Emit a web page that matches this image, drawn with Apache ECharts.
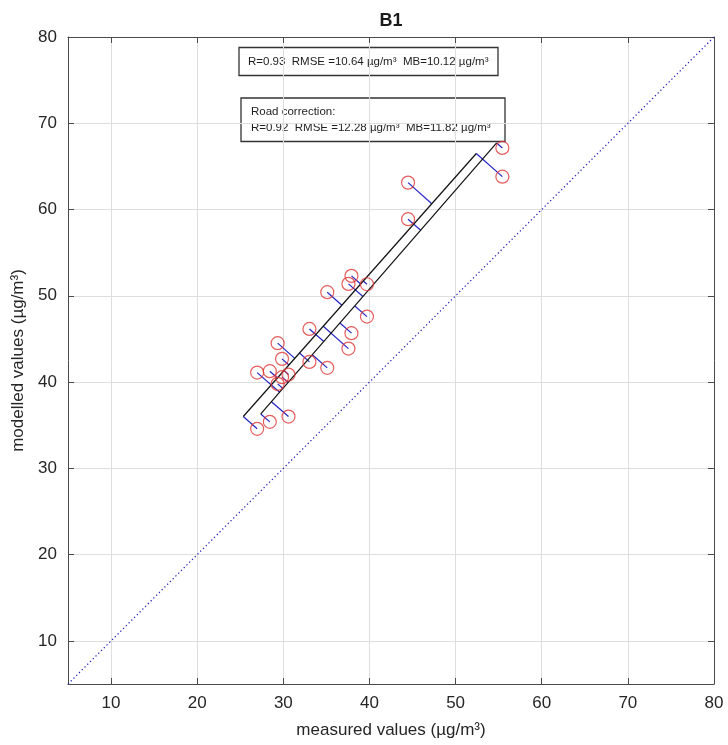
<!DOCTYPE html>
<html>
<head>
<meta charset="utf-8">
<script src="https://cdn.jsdelivr.net/npm/echarts@6/dist/echarts.min.js"></script>
<style>
  html, body { margin: 0; padding: 0; background: #fff; }
  #chart { width: 728px; height: 745px; }
</style>
</head>
<body>
<div id="chart"></div>
<script>
// Measured concentrations at the 12 monitoring sites (µg/m³)
const measured = [26.96, 28.43, 29.34, 29.85, 30.6, 33.03, 35.1, 37.56, 37.91, 39.71, 44.48, 55.43];
// Modelled concentrations, base run (µg/m³)
const modelBase = [41.10, 35.39, 39.79, 40.57, 36.0, 46.16, 41.65, 51.38, 45.67, 47.59, 58.88, 67.14];
// Modelled concentrations with road correction (µg/m³)
const modelRoad = [34.58, 41.26, 44.51, 42.69, 40.87, 42.34, 50.42, 43.88, 52.31, 51.34, 63.12, 63.81];
// Orthogonal fit lines as [slope, intercept]
const fitBase = [1.147, 4.90];
const fitRoad = [1.127, 7.44];
// Axis range and tick labels
const axisRange = [5, 80];
const tickValues = [10, 20, 30, 40, 50, 60, 70, 80];
// Statistics shown in the annotation boxes
const statsBase = 'R=0.93  RMSE =10.64 µg/m³  MB=10.12 µg/m³';
const statsRoadTitle = 'Road correction:';
const statsRoad = 'R=0.92  RMSE =12.28 µg/m³  MB=11.82 µg/m³';

// Foot of the perpendicular from (x, y) onto y = m*x + c
function foot(x, y, fit) {
  const m = fit[0], c = fit[1];
  const t = (x + m * (y - c)) / (1 + m * m);
  return [t, c + m * t];
}

// Residual segments and the fit-line extent covered by the projections
function buildFit(values, fit) {
  const residuals = [];
  let lo = null, hi = null;
  measured.forEach((x, i) => {
    const f = foot(x, values[i], fit);
    residuals.push({ coords: [[x, values[i]], f] });
    if (!lo || f[0] < lo[0]) lo = f;
    if (!hi || f[0] > hi[0]) hi = f;
  });
  return { residuals, segment: [lo, hi] };
}

const base = buildFit(modelBase, fitBase);
const road = buildFit(modelRoad, fitRoad);

const points = measured.map((x, i) => [x, modelBase[i]])
  .concat(measured.map((x, i) => [x, modelRoad[i]]));

const FONT = 'Liberation Sans, Arial, Helvetica, sans-serif';
const AXIS_COLOR = '#4a4a4a';

function makeAxis(extra) {
  return Object.assign({
    type: 'value',
    min: axisRange[0],
    max: axisRange[1],
    axisLine: { show: true, onZero: false, lineStyle: { color: AXIS_COLOR, width: 1 } },
    axisTick: { show: true, inside: true, length: 6, customValues: tickValues,
                lineStyle: { color: AXIS_COLOR, width: 1 } },
    axisLabel: { show: true, customValues: tickValues, color: '#262626',
                 fontSize: 17, fontFamily: FONT, margin: 11 },
    splitLine: { show: true, lineStyle: { color: '#dedede', width: 1 } }
  }, extra);
}

const chart = echarts.init(document.getElementById('chart'), null, { renderer: 'canvas' });

chart.setOption({
  animation: false,
  backgroundColor: '#fff',
  grid: { left: 68, right: 14, top: 37, bottom: 61, containLabel: false },
  xAxis: [
    makeAxis({
      position: 'bottom',
      name: 'measured values (µg/m³)',
      nameLocation: 'middle',
      nameGap: 38,
      nameTextStyle: { fontSize: 17, color: '#262626', fontFamily: FONT }
    }),
    makeAxis({ position: 'top', axisLabel: { show: false }, splitLine: { show: false } })
  ],
  yAxis: [
    makeAxis({
      position: 'left',
      name: 'modelled values (µg/m³)',
      nameLocation: 'middle',
      nameGap: 35,
      nameTextStyle: { fontSize: 17, color: '#262626', fontFamily: FONT }
    }),
    makeAxis({ position: 'right', axisLabel: { show: false }, splitLine: { show: false } })
  ],
  graphic: [
    { type: 'text', x: 391, y: 21, style: {
        text: 'B1', font: 'bold 18px ' + FONT, fill: '#1a1a1a',
        textAlign: 'center', textVerticalAlign: 'middle' } },
    { type: 'rect', shape: { x: 239, y: 47.5, width: 259, height: 28 },
      style: { fill: 'none', stroke: '#333', lineWidth: 1.3 } },
    { type: 'text', x: 248, y: 61.5, style: {
        text: statsBase, font: '11.5px ' + FONT, fill: '#1e1e1e', textVerticalAlign: 'middle' } },
    { type: 'rect', shape: { x: 241, y: 98, width: 264, height: 43.5 },
      style: { fill: 'none', stroke: '#333', lineWidth: 1.3 } },
    { type: 'text', x: 251, y: 111.5, style: {
        text: statsRoadTitle, font: '11.5px ' + FONT, fill: '#1e1e1e', textVerticalAlign: 'middle' } },
    { type: 'text', x: 251, y: 127.5, style: {
        text: statsRoad, font: '11.5px ' + FONT, fill: '#1e1e1e', textVerticalAlign: 'middle' } }
  ],
  series: [
    {
      name: '1:1',
      type: 'line',
      data: [[axisRange[0], axisRange[0]], [axisRange[1], axisRange[1]]],
      symbol: 'none',
      silent: true,
      lineStyle: { color: '#1e1eb4', width: 1.2, type: [1.3, 2.6] },
      z: 1
    },
    {
      name: 'residuals',
      type: 'lines',
      coordinateSystem: 'cartesian2d',
      data: base.residuals.concat(road.residuals),
      silent: true,
      lineStyle: { color: '#2424c8', width: 1.2, opacity: 1 },
      z: 2
    },
    {
      name: 'fit base',
      type: 'line',
      data: base.segment,
      symbol: 'none',
      silent: true,
      lineStyle: { color: '#111', width: 1.2 },
      z: 3
    },
    {
      name: 'fit road',
      type: 'line',
      data: road.segment,
      symbol: 'none',
      silent: true,
      lineStyle: { color: '#111', width: 1.2 },
      z: 3
    },
    {
      name: 'sites',
      type: 'scatter',
      data: points,
      symbol: 'circle',
      symbolSize: 13,
      silent: true,
      itemStyle: { color: 'rgba(0,0,0,0)', borderColor: '#e03434', borderWidth: 1.2 },
      z: 4
    }
  ]
});
</script>
</body>
</html>
